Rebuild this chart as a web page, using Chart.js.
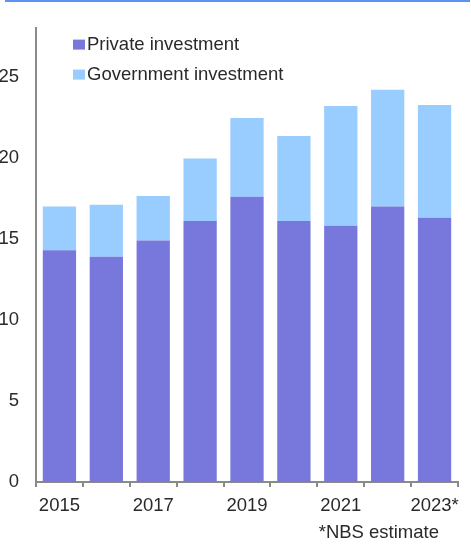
<!DOCTYPE html>
<html>
<head>
<meta charset="utf-8">
<script src="https://cdn.jsdelivr.net/npm/chart.js@4/dist/chart.umd.min.js"></script>
<style>
  html, body { margin: 0; padding: 0; background: #ffffff; }
  #wrap { width: 471px; height: 548px; position: relative; }
</style>
</head>
<body>
<div id="wrap"><canvas id="c" width="471" height="548"></canvas></div>
<script>
// Fixed asset investment split, in trillion yuan
const years = ['2015', '2016', '2017', '2018', '2019', '2020', '2021', '2022', '2023*'];
const privateInvestment = [14.3, 13.9, 14.9, 16.1, 17.6, 16.1, 15.8, 17.0, 16.3];
const governmentInvestment = [2.7, 3.2, 2.75, 3.85, 4.85, 5.25, 7.4, 7.2, 6.95];
const yTicks = [0, 5, 10, 15, 20, 25];
const footnote = '*NBS estimate';

const FONT = 'Liberation Sans, Arial, sans-serif';
const SIZE = 18.5;
const TEXT = '#2a2a2a';
const AXIS = '#8a8a8a';

// Header rule, in-plot legend and footnote
const decorations = {
  id: 'decorations',
  beforeDraw(chart) {
    const ctx = chart.ctx;
    ctx.save();
    ctx.fillStyle = '#5f92f0';
    ctx.fillRect(5, 0, 465, 2);
    ctx.restore();
  },
  afterDraw(chart) {
    const ctx = chart.ctx;
    const area = chart.chartArea;
    ctx.save();
    ctx.font = SIZE + 'px ' + FONT;
    ctx.textBaseline = 'middle';
    ctx.textAlign = 'left';
    chart.data.datasets.forEach((ds, i) => {
      const cy = area.top + 16.5 + i * 30;
      ctx.fillStyle = ds.backgroundColor;
      ctx.fillRect(area.left + 37, cy - 5, 12, 10);
      ctx.fillStyle = TEXT;
      ctx.fillText(ds.label, area.left + 51, cy);
    });
    ctx.textAlign = 'right';
    ctx.fillText(footnote, 439, 533);
    ctx.restore();
  }
};

new Chart(document.getElementById('c'), {
  type: 'bar',
  data: {
    labels: years,
    datasets: [
      { label: 'Private investment', data: privateInvestment, backgroundColor: '#7878dc', borderWidth: 0 },
      { label: 'Government investment', data: governmentInvestment, backgroundColor: '#99ccff', borderWidth: 0 }
    ]
  },
  options: {
    responsive: false,
    animation: false,
    layout: { padding: { top: 27, right: 13, left: 0, bottom: 0 } },
    plugins: { legend: { display: false }, tooltip: { enabled: false } },
    datasets: { bar: { categoryPercentage: 1, barPercentage: 0.71 } },
    scales: {
      x: {
        stacked: true,
        afterFit(scale) { scale.height = 66; },
        grid: { offset: true, drawOnChartArea: false, drawTicks: true, tickLength: 5, color: AXIS, lineWidth: 2 },
        border: { display: true, color: AXIS, width: 2 },
        ticks: {
          autoSkip: false, maxRotation: 0, minRotation: 0, padding: 8,
          color: TEXT, font: { family: FONT, size: SIZE },
          callback(value, index) { return index % 2 === 0 ? years[index] : ''; }
        }
      },
      y: {
        stacked: true,
        min: 0, max: 28,
        afterFit(scale) { scale.width = 36; },
        afterBuildTicks(scale) { scale.ticks = yTicks.map(v => ({ value: v })); },
        grid: { display: false, drawTicks: false },
        border: { display: true, color: AXIS, width: 2 },
        ticks: { padding: 17, color: TEXT, font: { family: FONT, size: SIZE } }
      }
    }
  },
  plugins: [decorations]
});
</script>
</body>
</html>
